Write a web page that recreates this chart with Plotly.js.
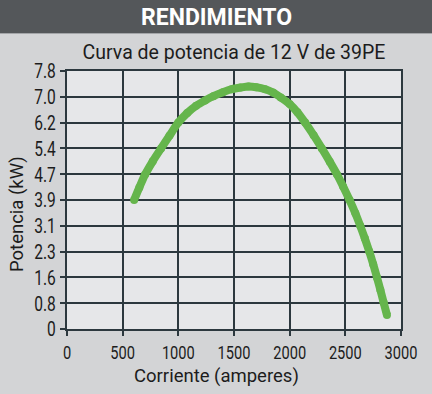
<!DOCTYPE html>
<html>
<head>
<meta charset="utf-8">
<script src="https://cdn.plot.ly/plotly-3.0.1.min.js"></script>
<style>
  html, body { margin: 0; padding: 0; background: #d3d4d6; }
  #chart { width: 432px; height: 394px; }
</style>
</head>
<body>
<div id="chart"></div>
<script>
// Data
const corriente = [603, 650, 700, 770, 845, 920, 1000, 1080, 1160, 1240, 1315, 1400, 1480, 1560, 1630, 1700, 1780, 1850, 1920, 2000, 2070, 2139, 2215, 2289, 2360, 2424, 2480, 2538, 2590, 2634, 2675, 2715, 2750, 2784, 2815, 2844, 2874];
const potencia  = [3.90, 4.28, 4.66, 5.07, 5.46, 5.84, 6.24, 6.53, 6.75, 6.91, 7.04, 7.16, 7.25, 7.30, 7.33, 7.31, 7.25, 7.15, 7.00, 6.80, 6.55, 6.24, 5.86, 5.46, 5.06, 4.68, 4.31, 3.90, 3.50, 3.12, 2.74, 2.34, 1.96, 1.56, 1.18, 0.80, 0.42];

const yTickVals = [0, 0.78, 1.56, 2.34, 3.12, 3.90, 4.68, 5.46, 6.24, 7.02, 7.80];
const yTickText = ["0", "0.8", "1.6", "2.3", "3.1", "3.9", "4.7", "5.4", "6.2", "7.0", "7.8"];
const xTickVals = [0, 500, 1000, 1500, 2000, 2500, 3000];
const xTickText = ["0", "500", "1000", "1500", "2000", "2500", "3000"];

const headerText = "RENDIMIENTO";
const subtitleText = "Curva de potencia de 12 V de 39PE";
const xTitleText = "Corriente (amperes)";
const yTitleText = "Potencia (kW)";

const gridColor = "#2c383e";
const font = "Roboto, sans-serif";

const trace = {
  x: corriente,
  y: potencia,
  type: "scatter",
  mode: "lines+markers",
  line: { color: "#65b54c", width: 8, shape: "spline", smoothing: 0.8 },
  marker: { color: "#65b54c", size: 8 },
  hoverinfo: "skip"
};

const W = 432, H = 394, L = 67, R = 31, T = 71, B = 65;
const pw = W - L - R, ph = H - T - B;
const px2x = p => (p - L) / pw;
const py2y = p => (H - B - p) / ph;

const layout = {
  width: W, height: H,
  margin: { l: L, r: R, t: T, b: B, pad: 0 },
  paper_bgcolor: "#d3d4d6",
  plot_bgcolor: "#e6e7e9",
  showlegend: false,
  title: {
    text: subtitleText,
    font: { family: font, size: 19.5, color: "#1c1c1c" },
    x: 0.5, xref: "paper", xanchor: "center",
    y: 1 - 52 / H, yref: "container", yanchor: "middle"
  },
  xaxis: {
    range: [0, 3000],
    tickvals: xTickVals, ticktext: xTickText,
    showgrid: true, gridcolor: gridColor, gridwidth: 2,
    zeroline: false,
    showline: true, linecolor: gridColor, linewidth: 2, mirror: true,
    ticks: "outside", ticklen: 5, tickwidth: 2, tickcolor: gridColor,
    tickfont: { family: font, size: 19, color: "#1c1c1c" },
    fixedrange: true
  },
  yaxis: {
    range: [0, 7.8],
    tickvals: yTickVals, ticktext: yTickText,
    showgrid: true, gridcolor: gridColor, gridwidth: 2,
    zeroline: false,
    showline: true, linecolor: gridColor, linewidth: 2, mirror: true,
    ticks: "outside", ticklen: 5, tickwidth: 2, tickcolor: gridColor,
    tickfont: { family: font, size: 21, color: "#1c1c1c" },
    fixedrange: true
  },
  shapes: [
    { type: "rect", xref: "paper", yref: "paper",
      x0: px2x(0), x1: px2x(W), y0: py2y(33), y1: py2y(0),
      fillcolor: "#54575a", line: { width: 0 }, layer: "below" },
    { type: "line", xref: "paper", yref: "paper",
      x0: px2x(0), x1: px2x(W), y0: py2y(33.5), y1: py2y(33.5),
      line: { color: "#a3a5a8", width: 1 } }
  ],
  annotations: [
    { text: "<b>" + headerText + "</b>", xref: "paper", yref: "paper",
      x: px2x(216), y: py2y(17), xanchor: "center", yanchor: "middle",
      showarrow: false, font: { family: font, size: 23, color: "#ffffff" } },
    { text: xTitleText, xref: "paper", yref: "paper",
      x: px2x(216.5), y: py2y(376), xanchor: "center", yanchor: "middle",
      showarrow: false, font: { family: font, size: 18.5, color: "#1c1c1c" } },
    { text: yTitleText, xref: "paper", yref: "paper", textangle: -90,
      x: px2x(17), y: py2y(214), xanchor: "center", yanchor: "middle",
      showarrow: false, font: { family: font, size: 18.5, color: "#1c1c1c" } }
  ]
};

function condense(selector, factor) {
  document.querySelectorAll(selector).forEach(t => {
    const w = t.getComputedTextLength();
    if (w > 0) {
      t.setAttribute("textLength", (w * factor).toFixed(2));
      t.setAttribute("lengthAdjust", "spacingAndGlyphs");
    }
  });
}

Plotly.newPlot("chart", [trace], layout, { displayModeBar: false, staticPlot: true }).then(() => {
  condense("#chart g.xtick text", 0.77);
  condense("#chart g.ytick text", 0.74);
});
</script>
</body>
</html>
